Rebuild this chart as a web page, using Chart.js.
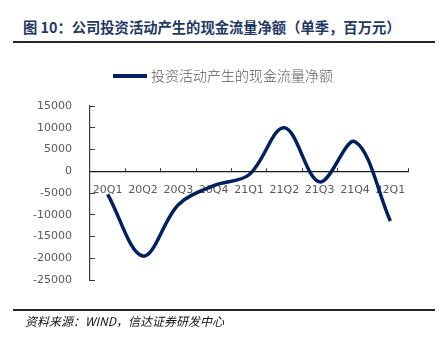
<!DOCTYPE html>
<html><head><meta charset="utf-8">
<script src="https://cdn.jsdelivr.net/npm/chart.js"></script>
<style>
html,body{margin:0;padding:0;background:#fff;}
#wrap{position:relative;width:445px;height:340px;overflow:hidden;}
#title{position:absolute;left:23px;top:17px;font:bold 14.3px "Noto Sans CJK SC",sans-serif;color:#1f3864;white-space:nowrap;line-height:20px;}
#l1{position:absolute;left:13px;top:41px;width:422px;height:2px;background:#262626;}
#l2{position:absolute;left:13px;top:309px;width:422px;height:2px;background:#262626;}
#src{position:absolute;left:25px;top:313px;font:italic 12px "Noto Sans CJK SC",sans-serif;color:#111;white-space:nowrap;line-height:16px;}
canvas{position:absolute;left:0;top:0;}
</style></head>
<body><div id="wrap">
<div id="title">图 10：公司投资活动产生的现金流量净额（单季，百万元）</div>
<div id="l1"></div>
<canvas id="c" width="445" height="340"></canvas>
<div id="l2"></div>
<div id="src">资料来源：WIND，信达证券研发中心</div>
</div>
<script>
const categories = ['20Q1','20Q2','20Q3','20Q4','21Q1','21Q2','21Q3','21Q4','22Q1'];
const seriesName = '投资活动产生的现金流量净额';
const seriesValues = [-5300, -19500, -7700, -3300, -800, 10000, -2450, 6800, -11450];
const yTicks = [15000, 10000, 5000, 0, -5000, -10000, -15000, -20000, -25000];

const lineColor = '#002060';
const legendPlugin = {
  id: 'customLegend',
  afterDraw(chart) {
    const ctx = chart.ctx;
    ctx.save();
    ctx.strokeStyle = lineColor;
    ctx.lineWidth = 4;
    ctx.lineCap = 'butt';
    ctx.beginPath();
    ctx.moveTo(113, 76);
    ctx.lineTo(147, 76);
    ctx.stroke();
    ctx.fillStyle = '#595959';
    ctx.font = '300 14px "Noto Sans CJK SC", sans-serif';
    ctx.textBaseline = 'middle';
    ctx.textAlign = 'left';
    ctx.fillText(chart.data.datasets[0].label, 151, 76);
    ctx.restore();
  }
};

new Chart(document.getElementById('c'), {
  type: 'line',
  data: {
    labels: categories,
    datasets: [{
      label: seriesName,
      data: seriesValues,
      borderColor: lineColor,
      backgroundColor: lineColor,
      borderWidth: 3.5,
      pointRadius: 0,
      tension: 0.35,
      fill: false
    }]
  },
  options: {
    responsive: false,
    animation: false,
    events: [],
    layout: { padding: { top: 106, left: 0, right: 37, bottom: 60 } },
    plugins: { legend: { display: false }, tooltip: { enabled: false } },
    scales: {
      x: {
        type: 'category',
        position: { y: 0 },
        offset: true,
        afterFit(s) { s.height = 0; },
        grid: { offset: true, drawOnChartArea: false, drawTicks: true, tickLength: -4, color: '#3a3a3a', lineWidth: 1 },
        border: { display: true, color: '#1a1a1a', width: 1.2 },
        ticks: { color: '#595959', font: { family: 'DejaVu Sans', size: 11 }, padding: 16, maxRotation: 0, autoSkip: false }
      },
      y: {
        min: -25000,
        max: 15000,
        afterFit(s) { s.width = 90; },
        afterBuildTicks(s) { s.ticks = yTicks.map(v => ({ value: v })); },
        grid: { drawOnChartArea: false, drawTicks: true, tickLength: -5, color: '#3a3a3a', lineWidth: 1 },
        border: { display: true, color: '#3a3a3a', width: 1.2 },
        ticks: { color: '#595959', font: { family: 'DejaVu Sans', size: 11 }, padding: 23, callback: v => String(v) }
      }
    }
  },
  plugins: [legendPlugin]
});
</script>
</body></html>
